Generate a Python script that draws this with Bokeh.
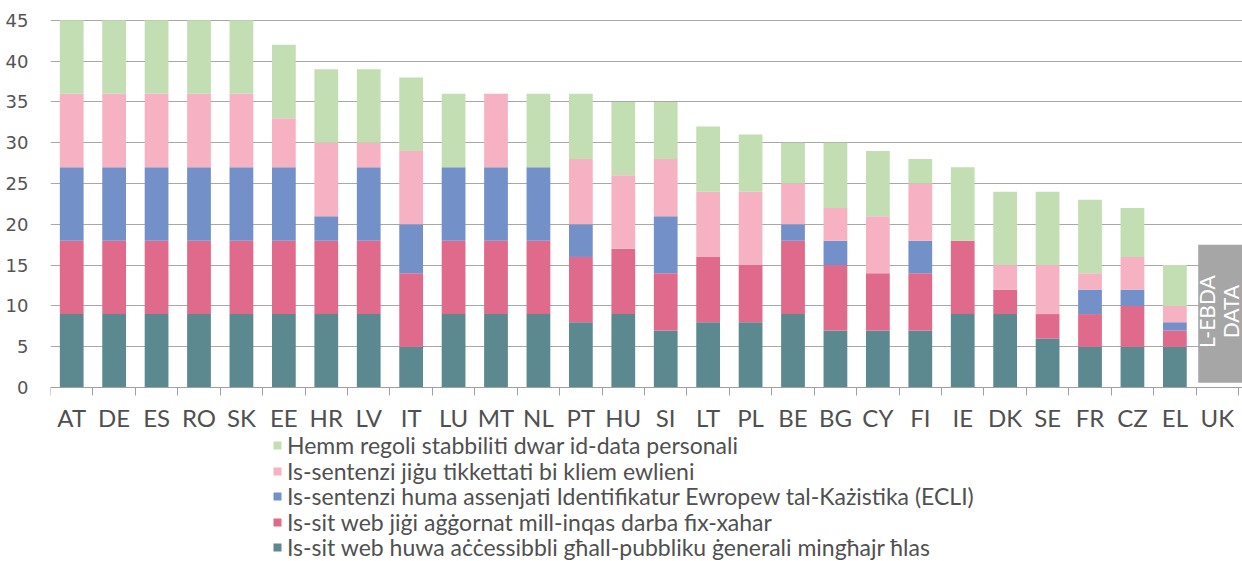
import math
from bokeh.plotting import figure
from bokeh.models import Range1d, FixedTicker, Legend, LegendItem, ColumnDataSource
from bokeh.core.properties import value
from bokeh.embed import file_html
from bokeh.resources import INLINE

countries = ["AT", "DE", "ES", "RO", "SK", "EE", "HR", "LV", "IT", "LU", "MT", "NL", "PT", "HU",
             "SI", "LT", "PL", "BE", "BG", "CY", "FI", "IE", "DK", "SE", "FR", "CZ", "EL", "UK"]
accessible = [9, 9, 9, 9, 9, 9, 9, 9, 5, 9, 9, 9, 8, 9, 7, 8, 8, 9, 7, 7, 7, 9, 9, 6, 5, 5, 5, 0]
updated    = [9, 9, 9, 9, 9, 9, 9, 9, 9, 9, 9, 9, 8, 8, 7, 8, 7, 9, 8, 7, 7, 9, 3, 3, 4, 5, 2, 0]
ecli       = [9, 9, 9, 9, 9, 9, 3, 9, 6, 9, 9, 9, 4, 0, 7, 0, 0, 2, 3, 0, 4, 0, 0, 0, 3, 2, 1, 0]
keywords   = [9, 9, 9, 9, 9, 6, 9, 3, 9, 0, 9, 0, 8, 9, 7, 8, 9, 5, 4, 7, 7, 0, 3, 6, 2, 4, 2, 0]
personal   = [9, 9, 9, 9, 9, 9, 9, 9, 9, 9, 0, 9, 8, 9, 7, 8, 7, 5, 8, 8, 3, 9, 9, 9, 9, 6, 5, 0]

series_labels = [
    "Is-sit web huwa aċċessibbli għall-pubbliku ġenerali mingħajr ħlas",
    "Is-sit web jiġi aġġornat mill-inqas darba fix-xahar",
    "Is-sentenzi huma assenjati Identifikatur Ewropew tal-Każistika (ECLI)",
    "Is-sentenzi jiġu tikkettati bi kliem ewlieni",
    "Hemm regoli stabbiliti dwar id-data personali",
]
colors = ["#5B898F", "#E06A8B", "#7390C8", "#F6B2C3", "#C3DEB3"]
no_data_country = "UK"
no_data_note = "L-EBDA\nDATA"
y_ticks = [0, 5, 10, 15, 20, 25, 30, 35, 40, 45]

xs = list(range(len(countries)))
keys = ["accessible", "updated", "ecli", "keywords", "personal"]
src = ColumnDataSource(dict(x=xs, accessible=accessible, updated=updated, ecli=ecli,
                            keywords=keywords, personal=personal))

n = len(countries)
# frame runs to the bottom of the canvas so the legend (below the axis) is drawn inside it
p = figure(width=1242, height=561, x_range=Range1d(-0.5, n - 0.406),
           y_range=Range1d(-21.32, 45.1), output_backend="svg", toolbar_location=None,
           min_border_left=50, min_border_right=0, min_border_top=19, min_border_bottom=0,
           background_fill_color="white", border_fill_color="white")
p.outline_line_color = None

renderers = p.vbar_stack(keys, x="x", width=0.56, color=colors, line_color=None, source=src)

# no-data box for UK
uk = countries.index(no_data_country)
p.quad(left=[uk - 0.45], right=[uk + 0.8], bottom=[0.6], top=[17.5],
       fill_color="#A6A6A6", line_color=None)
p.text(x=[uk + 0.02], y=[9.3], text=[no_data_note], angle=math.pi / 2,
       text_align="center", text_baseline="middle", text_color="white",
       text_font=value("Lato"), text_font_size="21px", text_line_height=0.95)

# axes
p.xaxis.fixed_location = 0
p.xaxis.ticker = FixedTicker(ticks=xs, minor_ticks=[i - 0.5 for i in range(n + 1)])
p.xaxis.major_label_overrides = {i: c for i, c in enumerate(countries)}
p.xaxis.major_tick_line_color = None
p.xaxis.major_tick_out = 0
p.xaxis.major_tick_in = 0
p.xaxis.minor_tick_out = 8
p.xaxis.minor_tick_in = 0
p.xaxis.minor_tick_line_color = "#A0A0A0"
p.xaxis.axis_line_color = "#A0A0A0"
p.xaxis.axis_line_width = 1.2
p.xaxis.major_label_text_font = "Lato"
p.xaxis.major_label_text_font_size = "24px"
p.xaxis.major_label_text_color = "#505050"
p.xaxis.major_label_standoff = 7

p.yaxis.ticker = FixedTicker(ticks=y_ticks)
p.yaxis.axis_line_color = None
p.yaxis.major_tick_line_color = None
p.yaxis.minor_tick_line_color = None
p.yaxis.major_label_text_font = "DejaVu Sans"
p.yaxis.major_label_text_font_size = "18px"
p.yaxis.major_label_text_color = "#555555"
p.yaxis.major_label_standoff = 16

p.xgrid.grid_line_color = None
p.ygrid.grid_line_color = "#A8A8A8"
p.ygrid.grid_line_width = 1.2

# one legend entry per row, stacked bottom-up (first series at the bottom)
row_offsets = [0, 25.5, 51, 76.5, 102]
for lab, r, yoff in zip(series_labels, renderers, row_offsets):
    lg = Legend(items=[LegendItem(label=lab, renderers=[r])], location=(222, yoff),
                orientation="vertical", border_line_color=None, background_fill_alpha=0,
                padding=0, margin=0, spacing=0, glyph_width=10, glyph_height=10,
                label_height=20, label_standoff=5, label_text_font="Lato",
                label_text_font_size="23px", label_text_color="#505050")
    p.add_layout(lg, "center")

open("out.html", "w").write(file_html(p, INLINE))
